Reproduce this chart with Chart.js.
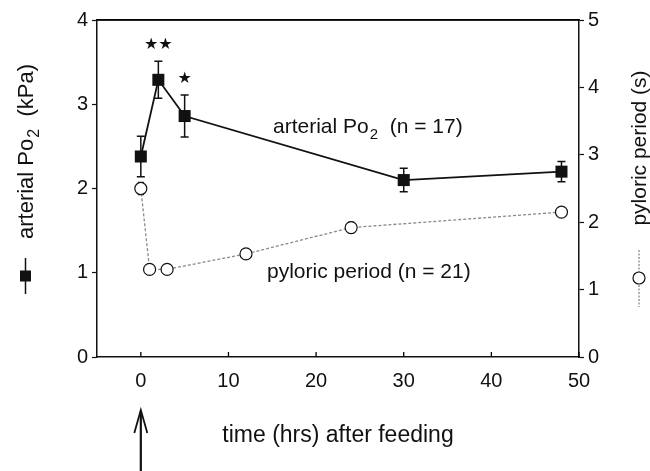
<!DOCTYPE html>
<html><head><meta charset="utf-8">
<script src="https://cdn.jsdelivr.net/npm/chart.js@4.4.1/dist/chart.umd.min.js"></script>
<style>html,body{margin:0;padding:0;background:#fff;}#wrap{width:650px;height:471px;position:relative;}</style>
</head><body><div id="wrap"><canvas id="c" width="650" height="471"></canvas></div>
<script>
// ---- data ----
const poHours = [0, 2, 5, 30, 48];
const poValues = [2.38, 3.29, 2.86, 2.10, 2.20];
const poErrors = [0.24, 0.22, 0.25, 0.14, 0.12];
const pyHours = [0, 1, 3, 12, 24, 48];
const pyValues = [2.5, 1.3, 1.3, 1.53, 1.92, 2.15];
const pyErrors = [0.09, 0, 0, 0, 0.08, 0];
const xTicks = [0, 10, 20, 30, 40, 50];
const leftTicks = [0, 1, 2, 3, 4];
const rightTicks = [0, 1, 2, 3, 4, 5];
const starMarks = [{hour: 2, text: '★★'}, {hour: 5, text: '★'}];

const FONT = "'Liberation Sans', Arial, Helvetica, sans-serif";
const INK = '#111';

const poData = poHours.map((h, i) => ({x: h, y: poValues[i]}));
const pyData = pyHours.map((h, i) => ({x: h, y: pyValues[i]}));

function drawPo2(ctx, x, y, size) {
  ctx.font = size + 'px ' + FONT;
  ctx.fillText('arterial Po', x, y);
  let w = ctx.measureText('arterial Po').width;
  ctx.font = Math.round(size * 0.72) + 'px ' + FONT;
  ctx.fillText('2', x + w + 1, y + size * 0.28);
  return x + w + 1 + ctx.measureText('2').width;
}

const decor = {
  id: 'decor',
  beforeDatasetsDraw(chart) {
    const ctx = chart.ctx, xs = chart.scales.x;
    ctx.save();
    ctx.setLineDash([]);
    ctx.strokeStyle = INK;
    ctx.lineWidth = 1.5;
    const bars = (hours, vals, errs, ys, cap) => {
      hours.forEach((h, i) => {
        if (!errs[i]) return;
        const px = xs.getPixelForValue(h);
        const t = ys.getPixelForValue(vals[i] + errs[i]);
        const b = ys.getPixelForValue(vals[i] - errs[i]);
        ctx.beginPath();
        ctx.moveTo(px, t); ctx.lineTo(px, b);
        ctx.moveTo(px - cap, t); ctx.lineTo(px + cap, t);
        ctx.moveTo(px - cap, b); ctx.lineTo(px + cap, b);
        ctx.stroke();
      });
    };
    bars(poHours, poValues, poErrors, chart.scales.y, 4);
    bars(pyHours, pyValues, pyErrors, chart.scales.y1, 3);
    ctx.restore();
  },
  afterDraw(chart) {
    const ctx = chart.ctx;
    const xs = chart.scales.x, ys = chart.scales.y;
    const left = xs.getPixelForValue(-5), right = xs.getPixelForValue(50);
    const top = ys.getPixelForValue(4), bottom = ys.getPixelForValue(0);
    ctx.save();
    ctx.setLineDash([]);
    // top frame line
    ctx.strokeStyle = '#000'; ctx.lineWidth = 1.6;
    ctx.beginPath(); ctx.moveTo(left, top); ctx.lineTo(right, top); ctx.stroke();
    // inward x ticks
    ctx.lineWidth = 1.3;
    xTicks.forEach(v => {
      const px = xs.getPixelForValue(v);
      ctx.beginPath(); ctx.moveTo(px, bottom); ctx.lineTo(px, bottom - 5); ctx.stroke();
    });
    ctx.fillStyle = INK;
    // stars
    ctx.textAlign = 'center'; ctx.textBaseline = 'middle';
    ctx.font = "16px 'DejaVu Sans', sans-serif";
    starMarks.forEach(s => {
      const i = poHours.indexOf(s.hour);
      const px = xs.getPixelForValue(s.hour);
      const py = ys.getPixelForValue(poValues[i] + poErrors[i]) - 16;
      ctx.fillText(s.text, px, py);
    });
    // series annotations
    ctx.textAlign = 'left'; ctx.textBaseline = 'alphabetic';
    let ex = drawPo2(ctx, 273, 133, 21);
    ctx.font = '21px ' + FONT;
    ctx.fillText('  (n = 17)', ex, 133);
    ctx.fillText('pyloric period (n = 21)', 267, 278);
    // x title
    ctx.font = '23px ' + FONT;
    ctx.textAlign = 'center';
    ctx.fillText('time (hrs) after feeding', 338, 442);
    // left title rotated
    ctx.save();
    ctx.translate(33, 239);
    ctx.rotate(-Math.PI / 2);
    ctx.textAlign = 'left';
    ex = drawPo2(ctx, 0, 0, 22);
    ctx.font = '22px ' + FONT;
    ctx.fillText('  (kPa)', ex, 0);
    ctx.restore();
    // right title rotated
    ctx.save();
    ctx.translate(646, 148);
    ctx.rotate(-Math.PI / 2);
    ctx.textAlign = 'center';
    ctx.font = '21px ' + FONT;
    ctx.fillText('pyloric period (s)', 0, 0);
    ctx.restore();
    // left legend glyph
    ctx.strokeStyle = INK; ctx.lineWidth = 1.5;
    ctx.beginPath(); ctx.moveTo(25.5, 258); ctx.lineTo(25.5, 294); ctx.stroke();
    ctx.fillRect(20, 270.5, 11, 11);
    // right legend glyph
    ctx.strokeStyle = '#8a8a8a'; ctx.lineWidth = 1.3; ctx.setLineDash([2, 1.5]);
    ctx.beginPath(); ctx.moveTo(639, 250); ctx.lineTo(639, 307); ctx.stroke();
    ctx.setLineDash([]);
    ctx.fillStyle = '#fff'; ctx.strokeStyle = INK; ctx.lineWidth = 1.2;
    ctx.beginPath(); ctx.arc(639, 278, 6, 0, Math.PI * 2); ctx.fill(); ctx.stroke();
    // feeding arrow at time 0
    const ax = xs.getPixelForValue(0);
    ctx.strokeStyle = INK; ctx.lineWidth = 2.2;
    ctx.beginPath(); ctx.moveTo(ax, 411); ctx.lineTo(ax, 471); ctx.stroke();
    ctx.lineWidth = 1.8;
    ctx.beginPath(); ctx.moveTo(ax - 6.5, 433); ctx.lineTo(ax, 410); ctx.lineTo(ax + 6.5, 433); ctx.stroke();
    ctx.restore();
  }
};

new Chart(document.getElementById('c'), {
  type: 'line',
  data: {
    datasets: [
      {
        label: 'arterial Po2',
        data: poData,
        yAxisID: 'y',
        borderColor: INK,
        borderWidth: 1.8,
        pointStyle: 'rect',
        pointRadius: 8.5,
        pointBackgroundColor: INK,
        pointBorderColor: INK,
        pointBorderWidth: 0,
        order: 1
      },
      {
        label: 'pyloric period',
        data: pyData,
        yAxisID: 'y1',
        borderColor: '#8a8a8a',
        borderWidth: 1.3,
        borderDash: [3, 2],
        pointStyle: 'circle',
        pointRadius: 6,
        pointBackgroundColor: '#fff',
        pointBorderColor: INK,
        pointBorderWidth: 1.2,
        order: 2
      }
    ]
  },
  options: {
    responsive: false,
    animation: false,
    devicePixelRatio: 1,
    layout: {padding: {top: 0, left: 0, right: 0, bottom: 0}},
    plugins: {legend: {display: false}, tooltip: {enabled: false}},
    scales: {
      x: {
        type: 'linear',
        min: -5, max: 50,
        afterBuildTicks: s => { s.ticks = xTicks.map(v => ({value: v})); },
        afterFit: s => { s.height = 114; },
        grid: {display: true, drawOnChartArea: false, drawTicks: false, tickLength: 0},
        border: {display: true, color: INK, width: 1.5},
        ticks: {color: INK, font: {family: FONT, size: 20}, padding: 12, maxRotation: 0}
      },
      xTop: {
        type: 'linear',
        position: 'top',
        min: -5, max: 50,
        afterFit: s => { s.height = 20; },
        grid: {display: false, drawTicks: false},
        border: {display: true, color: INK, width: 1.5},
        ticks: {display: false}
      },
      y: {
        position: 'left',
        min: 0, max: 4,
        afterBuildTicks: s => { s.ticks = leftTicks.map(v => ({value: v})); },
        afterFit: s => { s.width = 97; },
        grid: {display: true, drawOnChartArea: false, drawTicks: true, tickLength: 5, color: INK, tickWidth: 1.2},
        border: {display: true, color: INK, width: 1.5},
        ticks: {color: INK, font: {family: FONT, size: 20}, padding: 4}
      },
      y1: {
        position: 'right',
        min: 0, max: 5,
        afterBuildTicks: s => { s.ticks = rightTicks.map(v => ({value: v})); },
        afterFit: s => { s.width = 71; },
        grid: {display: true, drawOnChartArea: false, drawTicks: true, tickLength: 5, color: INK, tickWidth: 1.2},
        border: {display: true, color: INK, width: 1.5},
        ticks: {color: INK, font: {family: FONT, size: 20}, padding: 4}
      }
    }
  },
  plugins: [decor]
});
</script>
</body></html>
